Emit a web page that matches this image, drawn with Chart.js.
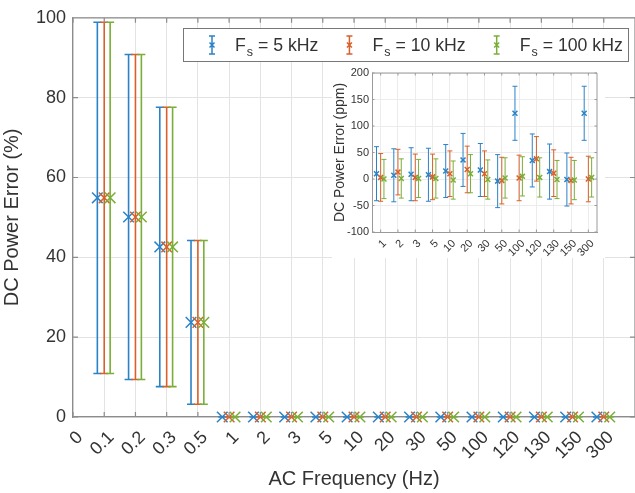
<!DOCTYPE html>
<html>
<head>
<meta charset="utf-8">
<script src="https://cdn.jsdelivr.net/npm/chart.js@4"></script>
<style>
    html, body { margin: 0; padding: 0; overflow: hidden; background: #fff; }
    #wrap { position: relative; width: 644px; height: 493px; }
    #main { position: absolute; left: 0; top: 0; }
    #inset { position: absolute; left: 332px; top: 62px; background: #fff; }
</style>
</head>
<body>
<div id="wrap">
    <canvas id="main" width="644" height="493"></canvas>
    <canvas id="inset" width="273" height="196"></canvas>
</div>
<script>
// main axes: AC frequency categories, DC power error in %
var freqLabels = ['0', '0.1', '0.2', '0.3', '0.5', '1', '2', '3', '5', '10', '20', '30', '50', '100', '120', '130', '150', '300'];
var mainTicksY = [0, 20, 40, 60, 80, 100];
var mean5k   = [null, 54.9, 50.1, 42.6, 23.7, 0, 0, 0, 0, 0, 0, 0, 0, 0, 0, 0, 0, 0];
var err5k    = [null, 44.0, 40.7, 35.0, 20.5, 0, 0, 0, 0, 0, 0, 0, 0, 0, 0, 0, 0, 0];
var mean10k  = [null, 54.9, 50.1, 42.6, 23.7, 0, 0, 0, 0, 0, 0, 0, 0, 0, 0, 0, 0, 0];
var err10k   = [null, 44.0, 40.7, 35.0, 20.5, 0, 0, 0, 0, 0, 0, 0, 0, 0, 0, 0, 0, 0];
var mean100k = [null, 54.9, 50.1, 42.6, 23.7, 0, 0, 0, 0, 0, 0, 0, 0, 0, 0, 0, 0, 0];
var err100k  = [null, 44.0, 40.7, 35.0, 20.5, 0, 0, 0, 0, 0, 0, 0, 0, 0, 0, 0, 0, 0];

// inset: 1 Hz and up, error in ppm
var insetLabels = ['1', '2', '3', '5', '10', '20', '30', '50', '100', '120', '130', '150', '300'];
var insetTicksY = [-100, -50, 0, 50, 100, 150, 200];
var ppm5k     = [10, 7, 9, 8, 15, 36, 17, -4, 124, 35, 14, -1, 124];
var ppmErr5k  = [51, 50, 50, 50, 50, 50, 50, 50, 51, 50, 52, 50, 51];
var ppm10k    = [3, 13, 3, 4, 10, 18, 10, -3, 2, 38, 11, -3, 0];
var ppmErr10k = [45, 43, 44, 43, 43, 44, 43, 44, 43, 42, 44, 44, 43];
var ppm100k   = [0, 1, 1, 1, -2, 10, -1, 2, 5, 3, -1, -2, 3];
var ppmErr100k = [37, 37, 36, 37, 36, 36, 37, 38, 37, 37, 36, 37, 37];

var seriesNames = ['5 kHz', '10 kHz', '100 kHz'];
var colors = ['#2b83c6', '#d8602a', '#7aae38'];
var font = '"Liberation Sans", Arial, sans-serif';
var textColor = '#333';

function points(means, errs, shift) {
    var pts = [];
    means.forEach(function (m, i) {
        if (m === null) return;
        pts.push({ x: i + shift, y: m, err: errs[i] });
    });
    return pts;
}

function dataset(pts, k, radius) {
    return {
        data: pts,
        borderColor: colors[k],
        backgroundColor: colors[k],
        pointStyle: 'crossRot',
        pointRadius: radius,
        pointHoverRadius: radius,
        pointBorderWidth: 1.5,
        clip: false,
        order: 3 - k
    };
}

var errorBars = {
    id: 'errorBars',
    afterDatasetDraw: function (chart, args, opts) {
        var ds = chart.data.datasets[args.index];
        var xs = chart.scales.x, ys = chart.scales.y, ctx = chart.ctx;
        ctx.save();
        ctx.strokeStyle = ds.borderColor;
        ctx.lineWidth = opts.width;
        ds.data.forEach(function (p) {
            var x = xs.getPixelForValue(p.x);
            var top = ys.getPixelForValue(p.y + p.err);
            var bot = ys.getPixelForValue(p.y - p.err);
            ctx.beginPath();
            ctx.moveTo(x, top); ctx.lineTo(x, bot);
            ctx.moveTo(x - opts.cap, top); ctx.lineTo(x + opts.cap, top);
            ctx.moveTo(x - opts.cap, bot); ctx.lineTo(x + opts.cap, bot);
            ctx.stroke();
        });
        ctx.restore();
    }
};

// matlab style box with inward ticks
var axesBox = {
    id: 'axesBox',
    afterDraw: function (chart, args, opts) {
        var a = chart.chartArea, ctx = chart.ctx;
        ctx.save();
        ctx.strokeStyle = opts.color;
        ctx.lineWidth = opts.width;
        ctx.beginPath();
        ctx.moveTo(a.left, a.top); ctx.lineTo(a.right, a.top); ctx.lineTo(a.right, a.bottom);
        chart.scales.x.ticks.forEach(function (t) {
            var x = chart.scales.x.getPixelForValue(t.value);
            ctx.moveTo(x, a.bottom); ctx.lineTo(x, a.bottom - opts.tick);
            ctx.moveTo(x, a.top); ctx.lineTo(x, a.top + opts.tick);
        });
        chart.scales.y.ticks.forEach(function (t) {
            var y = chart.scales.y.getPixelForValue(t.value);
            ctx.moveTo(a.left, y); ctx.lineTo(a.left + opts.tick, y);
            ctx.moveTo(a.right, y); ctx.lineTo(a.right - opts.tick, y);
        });
        ctx.stroke();
        ctx.restore();
    }
};

var legendBox = {
    id: 'legendBox',
    afterDraw: function (chart) {
        var ctx = chart.ctx;
        var left = 183, top = 28, w = 445, h = 33;
        ctx.save();
        ctx.fillStyle = '#fff';
        ctx.fillRect(left, top, w, h);
        ctx.strokeStyle = '#777';
        ctx.lineWidth = 1;
        ctx.strokeRect(left + 0.5, top + 0.5, w, h);
        var cx = left + 29;
        seriesNames.forEach(function (name, k) {
            // icon
            ctx.strokeStyle = colors[k];
            ctx.lineWidth = 1.5;
            ctx.beginPath();
            ctx.moveTo(cx, top + 8); ctx.lineTo(cx, top + 26);
            ctx.moveTo(cx - 3, top + 8); ctx.lineTo(cx + 3, top + 8);
            ctx.moveTo(cx - 3, top + 26); ctx.lineTo(cx + 3, top + 26);
            ctx.moveTo(cx - 2.5, top + 14.5); ctx.lineTo(cx + 2.5, top + 19.5);
            ctx.moveTo(cx - 2.5, top + 19.5); ctx.lineTo(cx + 2.5, top + 14.5);
            ctx.stroke();
            // text F_s = ...
            var tx = cx + 23;
            ctx.fillStyle = textColor;
            ctx.textBaseline = 'alphabetic';
            ctx.font = '17.7px ' + font;
            ctx.fillText('F', tx, top + 23);
            tx += ctx.measureText('F').width + 1;
            ctx.font = '12.5px ' + font;
            ctx.fillText('s', tx, top + 28);
            tx += ctx.measureText('s').width;
            ctx.font = '17.7px ' + font;
            var rest = ' = ' + name;
            ctx.fillText(rest, tx, top + 23);
            tx += ctx.measureText(rest).width;
            cx = tx + 31;
        });
        ctx.restore();
    }
};

var mainShift = [-0.22, 0, 0.19];
new Chart(document.getElementById('main'), {
    type: 'scatter',
    data: {
        datasets: [
            dataset(points(mean5k, err5k, mainShift[0]), 0, 7.5),
            dataset(points(mean10k, err10k, mainShift[1]), 1, 7.5),
            dataset(points(mean100k, err100k, mainShift[2]), 2, 7.5)
        ]
    },
    plugins: [errorBars, axesBox, legendBox],
    options: {
        responsive: false,
        animation: false,
        layout: { padding: { top: 16, right: 3, left: 0, bottom: 0 } },
        plugins: {
            legend: { display: false },
            tooltip: { enabled: false },
            errorBars: { width: 1.6, cap: 4 },
            axesBox: { color: '#8c8c8c', width: 1.2, tick: 5 }
        },
        scales: {
            x: {
                type: 'linear', min: 0, max: 18,
                afterBuildTicks: function (s) { s.ticks = freqLabels.map(function (l, i) { return { value: i }; }); },
                afterFit: function (s) { s.height = 76; },
                ticks: {
                    callback: function (v) { return freqLabels[v]; },
                    autoSkip: false,
                    minRotation: 45, maxRotation: 45, padding: 10, labelOffset: 7,
                    color: textColor, font: { family: font, size: 18 }
                },
                grid: { color: '#e3e3e3', drawTicks: false },
                border: { color: '#8c8c8c', width: 1.2 },
                title: { display: true, text: 'AC Frequency (Hz)', color: textColor, padding: 2, font: { family: font, size: 20 } }
            },
            y: {
                min: 0, max: 100,
                afterBuildTicks: function (s) { s.ticks = mainTicksY.map(function (v) { return { value: v }; }); },
                afterFit: function (s) { s.width = 73; },
                ticks: { padding: 7, color: textColor, font: { family: font, size: 18 } },
                grid: { color: '#e3e3e3', drawTicks: false },
                border: { color: '#8c8c8c', width: 1.2 },
                title: { display: true, text: 'DC Power Error (%)', color: textColor, padding: 0, font: { family: font, size: 20 } }
            }
        }
    }
});

var insetShift = [-0.24, 0, 0.19];
new Chart(document.getElementById('inset'), {
    type: 'scatter',
    data: {
        datasets: [
            dataset(points(ppm5k, ppmErr5k, insetShift[0]), 0, 3.5),
            dataset(points(ppm10k, ppmErr10k, insetShift[1]), 1, 3.5),
            dataset(points(ppm100k, ppmErr100k, insetShift[2]), 2, 3.5)
        ]
    },
    plugins: [errorBars, axesBox],
    options: {
        responsive: false,
        animation: false,
        layout: { padding: { top: 11, right: 8, left: 0, bottom: 0 } },
        plugins: {
            legend: { display: false },
            tooltip: { enabled: false },
            errorBars: { width: 1, cap: 2.5 },
            axesBox: { color: '#9a9a9a', width: 1, tick: 2.5 }
        },
        scales: {
            x: {
                type: 'linear', min: -0.5, max: 12.5,
                afterBuildTicks: function (s) { s.ticks = insetLabels.map(function (l, i) { return { value: i }; }); },
                afterFit: function (s) { s.height = 26; },
                ticks: {
                    callback: function (v) { return insetLabels[v]; },
                    autoSkip: false,
                    minRotation: 45, maxRotation: 45, padding: 5, labelOffset: 4,
                    color: textColor, font: { family: font, size: 11 }
                },
                grid: { color: '#ececec', drawTicks: false },
                border: { color: '#9a9a9a', width: 1 }
            },
            y: {
                min: -100, max: 200,
                afterBuildTicks: function (s) { s.ticks = insetTicksY.map(function (v) { return { value: v }; }); },
                afterFit: function (s) { s.width = 40; },
                ticks: { padding: 3, color: textColor, font: { family: font, size: 11 } },
                grid: { color: '#ececec', drawTicks: false },
                border: { color: '#9a9a9a', width: 1 },
                title: { display: true, text: 'DC Power Error (ppm)', color: textColor, padding: 0, font: { family: font, size: 14 } }
            }
        }
    }
});
</script>
</body>
</html>
